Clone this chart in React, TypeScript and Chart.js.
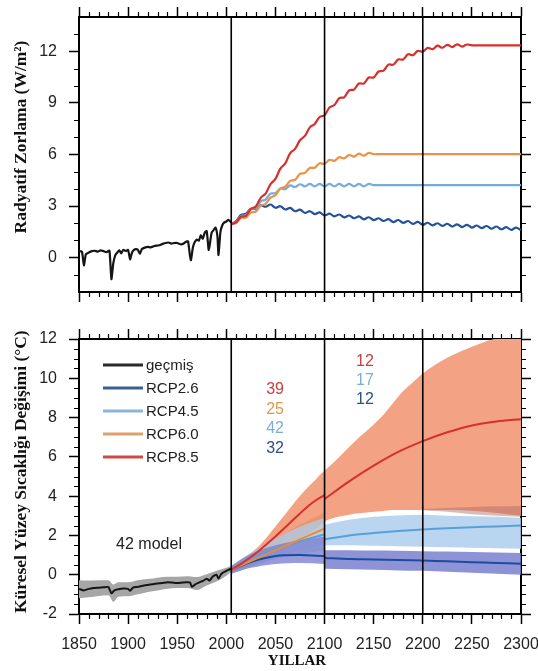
import React, { useEffect, useRef } from "react";
import { Chart, registerables } from "chart.js";
Chart.register(...registerables);

// ---------------- axes ----------------
const xMajorTicks = [1850, 1900, 1950, 2000, 2050, 2100, 2150, 2200, 2250, 2300];
const forcingTicks = [0, 3, 6, 9, 12];
const tempTicks = [-2, 0, 2, 4, 6, 8, 10, 12];
const eraLines = [2005, 2100, 2200];

// ---------------- top panel: radiative forcing (W/m2) ----------------
const histForcingYears = [1850, 1853, 1855, 1857, 1860, 1863, 1866, 1869, 1872, 1875, 1878, 1881, 1883, 1885, 1887, 1889, 1891, 1893, 1895, 1898, 1900, 1902, 1904, 1906, 1908, 1910, 1912, 1914, 1917, 1920, 1923, 1926, 1929, 1932, 1935, 1938, 1941, 1944, 1947, 1950, 1953, 1956, 1959, 1961, 1963, 1964, 1966, 1968, 1970, 1972, 1974, 1976, 1978, 1980, 1982, 1983, 1985, 1987, 1989, 1991, 1992, 1994, 1996, 1998, 2000, 2002, 2005];
const histForcing = [0.38, 0.35, -0.45, 0.2, 0.3, 0.38, 0.4, 0.35, 0.42, 0.38, 0.32, 0.4, -1.25, -0.3, 0.15, 0.3, 0.42, 0.25, 0.45, 0.38, 0.45, -0.1, 0.3, 0.45, 0.5, 0.45, 0.22, 0.5, 0.58, 0.62, 0.6, 0.66, 0.7, 0.72, 0.8, 0.85, 0.88, 0.82, 0.85, 0.85, 0.78, 0.8, 0.92, 0.95, 0.1, -0.15, 0.6, 0.92, 1.05, 0.98, 1.3, 1.1, 1.45, 1.55, 0.45, 0.7, 1.45, 1.6, 1.75, 1.2, 0.15, 1.5, 1.9, 2.05, 2.1, 2.2, 2.05];

const projYears = [2005, 2010, 2015, 2020, 2025, 2030, 2035, 2040, 2045, 2050, 2055, 2060, 2065, 2070, 2075, 2080, 2085, 2090, 2095, 2100, 2105, 2110, 2115, 2120, 2125, 2130, 2135, 2140, 2145, 2150, 2155, 2160, 2165, 2170, 2175, 2180, 2185, 2190, 2195, 2200, 2205, 2210, 2215, 2220, 2225, 2230, 2235, 2240, 2245, 2250, 2255, 2260, 2265, 2270, 2275, 2280, 2285, 2290, 2295, 2300];
const rcp85Forcing = [1.95, 2.05, 2.38, 2.43, 2.83, 2.98, 3.48, 3.73, 4.28, 4.58, 5.18, 5.48, 6.08, 6.33, 6.83, 7.08, 7.58, 7.78, 8.18, 8.28, 8.73, 8.88, 9.28, 9.33, 9.73, 9.78, 10.13, 10.13, 10.48, 10.48, 10.83, 10.88, 11.23, 11.23, 11.53, 11.53, 11.83, 11.78, 12.03, 11.98, 12.2, 12.13, 12.33, 12.21, 12.38, 12.25, 12.41, 12.28, 12.4, 12.35, 12.35, 12.35, 12.35, 12.35, 12.35, 12.35, 12.35, 12.35, 12.35, 12.35];
const rcp60Forcing = [1.95, 2.03, 2.32, 2.33, 2.62, 2.68, 3.02, 3.13, 3.49, 3.63, 4.02, 4.13, 4.47, 4.53, 4.87, 4.93, 5.22, 5.23, 5.49, 5.45, 5.69, 5.63, 5.85, 5.78, 5.97, 5.88, 6.05, 5.93, 6.09, 6.02, 6.02, 6.02, 6.02, 6.02, 6.02, 6.02, 6.02, 6.02, 6.02, 6.02, 6.02, 6.02, 6.02, 6.02, 6.02, 6.02, 6.02, 6.02, 6.02, 6.02, 6.02, 6.02, 6.02, 6.02, 6.02, 6.02, 6.02, 6.02, 6.02, 6.02];
const rcp45Forcing = [1.95, 2.08, 2.42, 2.48, 2.82, 2.88, 3.27, 3.38, 3.72, 3.75, 4.02, 3.98, 4.2, 4.11, 4.27, 4.15, 4.29, 4.15, 4.29, 4.15, 4.29, 4.15, 4.29, 4.15, 4.29, 4.15, 4.29, 4.15, 4.29, 4.22, 4.22, 4.22, 4.22, 4.22, 4.22, 4.22, 4.22, 4.22, 4.22, 4.22, 4.22, 4.22, 4.22, 4.22, 4.22, 4.22, 4.22, 4.22, 4.22, 4.22, 4.22, 4.22, 4.22, 4.22, 4.22, 4.22, 4.22, 4.22, 4.22, 4.22];
const rcp26Forcing = [1.95, 2.13, 2.49, 2.55, 2.85, 2.83, 3.05, 2.96, 3.09, 2.9, 2.99, 2.8, 2.89, 2.7, 2.79, 2.6, 2.7, 2.53, 2.63, 2.45, 2.56, 2.4, 2.51, 2.34, 2.45, 2.29, 2.4, 2.23, 2.35, 2.18, 2.29, 2.13, 2.24, 2.07, 2.19, 2.02, 2.13, 1.96, 2.08, 1.91, 2.03, 1.88, 2.0, 1.85, 1.97, 1.81, 1.94, 1.78, 1.91, 1.75, 1.87, 1.72, 1.84, 1.68, 1.81, 1.65, 1.77, 1.62, 1.74, 1.6];

// ---------------- bottom panel: temperature change (°C) ----------------
const histTempYears = [1850, 1855, 1860, 1865, 1870, 1875, 1880, 1883, 1886, 1890, 1895, 1900, 1902, 1905, 1910, 1915, 1920, 1925, 1930, 1935, 1940, 1945, 1950, 1955, 1960, 1963, 1965, 1968, 1972, 1976, 1980, 1983, 1986, 1990, 1992, 1995, 1998, 2002, 2005];
const histTemp = [-0.72, -0.8, -0.72, -0.68, -0.66, -0.64, -0.63, -0.95, -0.8, -0.74, -0.7, -0.72, -0.82, -0.66, -0.62, -0.56, -0.52, -0.48, -0.45, -0.42, -0.38, -0.4, -0.42, -0.4, -0.38, -0.4, -0.62, -0.5, -0.4, -0.32, -0.2, -0.3, -0.1, 0.0, -0.2, 0.05, 0.15, 0.25, 0.3];
const histBandYears = [1850, 1860, 1870, 1880, 1885, 1890, 1900, 1910, 1920, 1930, 1940, 1950, 1960, 1970, 1980, 1990, 2000, 2005];
const histTempUpper = [-0.28, -0.3, -0.28, -0.28, -0.5, -0.38, -0.38, -0.28, -0.22, -0.15, -0.1, -0.1, -0.08, -0.12, 0.02, 0.2, 0.35, 0.45];
const histTempLower = [-1.2, -1.15, -1.08, -1.05, -1.38, -1.12, -1.1, -1.0, -0.88, -0.8, -0.72, -0.68, -0.68, -0.78, -0.55, -0.35, -0.05, 0.15];

const tempYearsPre = [2005, 2025, 2050, 2075, 2100];
const tempYearsPost = [2100, 2125, 2150, 2175, 2200, 2225, 2250, 2275, 2300];

const rcp85TempYearsPre = [2005, 2015, 2025, 2035, 2050, 2065, 2080, 2090, 2100];
const rcp85TempPre = [0.25, 0.55, 0.9, 1.3, 1.95, 2.65, 3.35, 3.75, 4.05];
const rcp85TempPost = [3.85, 4.75, 5.55, 6.25, 6.8, 7.25, 7.6, 7.8, 7.92];
const rcp60TempPre = [0.25, 0.7, 1.25, 1.8, 2.35];
const rcp45TempPre = [0.25, 0.75, 1.3, 1.7, 2.05];
const rcp45TempPost = [1.8, 2.0, 2.12, 2.22, 2.3, 2.37, 2.42, 2.46, 2.5];
const rcp26TempPre = [0.25, 0.65, 0.95, 1.0, 0.95];
const rcp26TempPost = [0.85, 0.8, 0.78, 0.75, 0.72, 0.68, 0.64, 0.6, 0.56];

const rcp85BandYears = [2005, 2015, 2025, 2035, 2050, 2065, 2080, 2090, 2100, 2110, 2120, 2130, 2140, 2150, 2160, 2170, 2180, 2190, 2200, 2220, 2240, 2260, 2280, 2300];
const rcp85BandHi = [0.45, 0.7, 1.1, 1.55, 2.45, 3.4, 4.3, 4.8, 5.3, 5.75, 6.25, 6.75, 7.2, 7.65, 8.15, 8.75, 9.35, 9.8, 10.25, 10.9, 11.4, 11.8, 12.1, 12.3];
const rcp85BandLo = [0.05, 0.3, 0.55, 0.8, 1.2, 1.6, 2.0, 2.3, 2.7, 2.9, 3.0, 3.1, 3.15, 3.2, 3.25, 3.3, 3.3, 3.3, 3.3, 3.3, 3.28, 3.22, 3.12, 3.0];
const rcp85StripYears = [2200, 2225, 2250, 2275, 2300];
const rcp85StripHi = [3.35, 3.4, 3.45, 3.48, 3.5];
const rcp85StripLo = [3.28, 3.2, 3.08, 3.0, 2.95];
const rcp60BandHiPre = [0.45, 1.1, 1.85, 2.55, 3.15];
const rcp60BandLoPre = [0.05, 0.4, 0.85, 1.25, 1.6];
const rcp45BandHiPre = [0.45, 1.1, 1.85, 2.45, 2.9];
const rcp45BandLoPre = [0.05, 0.4, 0.8, 1.05, 1.25];
const rcp45BandHiPost = [2.55, 2.8, 2.95, 3.02, 3.05, 3.0, 2.98, 2.95, 2.9];
const rcp45BandLoPost = [1.5, 1.5, 1.47, 1.45, 1.42, 1.4, 1.37, 1.35, 1.32];
const rcp26BandHiPre = [0.45, 1.05, 1.5, 1.75, 1.95];
const rcp26BandLoPre = [0.05, 0.35, 0.55, 0.6, 0.55];
const rcp26BandHiPost = [1.25, 1.25, 1.23, 1.22, 1.2, 1.18, 1.16, 1.13, 1.1];
const rcp26BandLoPost = [0.3, 0.28, 0.25, 0.22, 0.2, 0.15, 0.1, 0.05, 0.0];

// model counts
const counts2100 = ["39", "25", "42", "32"];
const counts2100Y = [9.4, 8.41, 7.42, 6.43];
const counts2300 = ["12", "17", "12"];
const counts2300Y = [10.84, 9.89, 8.93];
const legendLabels = ["geçmiş", "RCP2.6", "RCP4.5", "RCP6.0", "RCP8.5"];

// ---------------- styles ----------------
const C = {
  hist: "#151515",
  r26: "#24519a",
  r45: "#74acdd",
  r60: "#ea9245",
  r85: "#d6302c",
  r26m: "#1d4c9e",
  r45m: "#5a9fd8",
  r60m: "#ee8a35",
  r85m: "#d7302b",
};
const countColors2100 = ["#c9413e", "#e0974f", "#7aaedb", "#2c4f85"];
const countColors2300 = ["#c9413e", "#7aaedb", "#2c4f85"];
const legendColors = ["#2a2a2a", "#3a5f92", "#8ab6de", "#dca16c", "#cf4a46"];
const SANS = '"Liberation Sans", Arial, Helvetica, sans-serif';
const SERIF = '"Liberation Serif", "Times New Roman", serif';

const pts = (xs: number[], ys: number[]) => xs.map((x, i) => ({ x, y: ys[i] }));

function line(data: any[], color: string, width: number, order: number, tension = 0.35) {
  return {
    type: "line",
    data,
    borderColor: color,
    borderWidth: width,
    pointRadius: 0,
    fill: false,
    tension,
    order,
  };
}

function addBand(list: any[], xs: number[], lo: number[], hi: number[], color: string, order: number) {
  const loIdx = list.length;
  list.push({ type: "line", data: pts(xs, lo), borderWidth: 0, borderColor: "rgba(0,0,0,0)", pointRadius: 0, fill: false, tension: 0.3, cubicInterpolationMode: "monotone", order });
  list.push({ type: "line", data: pts(xs, hi), borderWidth: 0, borderColor: "rgba(0,0,0,0)", backgroundColor: color, pointRadius: 0, fill: { target: loIdx }, tension: 0.3, cubicInterpolationMode: "monotone", order });
}

function axis(position: string, min: number, max: number, ticks: number[], size: number, showLabels: boolean) {
  const vertical = position === "left" || position === "right";
  return {
    type: "linear",
    position,
    min,
    max,
    afterBuildTicks: (s: any) => {
      s.ticks = ticks.map((v) => ({ value: v }));
    },
    afterFit: (s: any) => {
      if (vertical) s.width = size;
      else s.height = size;
      s.paddingLeft = 0;
      s.paddingRight = 0;
      s.paddingTop = 0;
      s.paddingBottom = 0;
    },
    ticks: {
      display: showLabels,
      font: { family: SANS, size: 16 },
      color: "#222",
      padding: vertical ? 12 : 11,
      maxRotation: 0,
      autoSkip: false,
      callback: (v: any) => String(v),
    },
    grid: { drawOnChartArea: false, drawTicks: true, tickLength: 10, tickColor: "#000", tickWidth: 1.5 },
    border: { display: true, color: "#000", width: 2 },
  };
}

const decorPlugin = {
  id: "decor",
  afterDraw(chart: any, _args: any, opts: any) {
    const { ctx, chartArea: a, scales } = chart;
    const xs = scales.x;
    const ys = scales.y;
    ctx.save();
    // minor ticks
    ctx.strokeStyle = "#000";
    ctx.lineWidth = 1.2;
    ctx.beginPath();
    for (let v = xs.min; v <= xs.max + 1e-6; v += opts.xMinor) {
      if (xMajorTicks.includes(v)) continue;
      const p = Math.round(xs.getPixelForValue(v)) + 0.5;
      ctx.moveTo(p, a.top);
      ctx.lineTo(p, a.top - 5);
      ctx.moveTo(p, a.bottom);
      ctx.lineTo(p, a.bottom + 5);
    }
    for (let v = ys.min; v <= ys.max + 1e-6; v += opts.yMinor) {
      if (opts.yMajor.includes(v) || v === ys.min || v === ys.max) continue;
      const p = Math.round(ys.getPixelForValue(v)) + 0.5;
      ctx.moveTo(a.left, p);
      ctx.lineTo(a.left - 5, p);
      ctx.moveTo(a.right, p);
      ctx.lineTo(a.right + 5, p);
    }
    ctx.stroke();
    // texts
    for (const t of opts.texts || []) {
      const px = t.px !== undefined ? t.px : xs.getPixelForValue(t.x);
      const py = t.py !== undefined ? t.py : ys.getPixelForValue(t.y);
      ctx.save();
      ctx.translate(px, py);
      if (t.rotate) ctx.rotate(t.rotate);
      ctx.font = t.font;
      ctx.fillStyle = t.color;
      ctx.textAlign = t.align || "center";
      ctx.textBaseline = "middle";
      ctx.fillText(t.text, 0, 0);
      ctx.restore();
    }
    // legend
    if (opts.legend) {
      ctx.font = `15px ${SANS}`;
      ctx.textAlign = "left";
      ctx.textBaseline = "middle";
      opts.legend.forEach((lab: string, i: number) => {
        const y = a.top + 26 + i * 23;
        ctx.strokeStyle = legendColors[i];
        ctx.lineWidth = 3;
        ctx.beginPath();
        ctx.moveTo(a.left + 24, y);
        ctx.lineTo(a.left + 64, y);
        ctx.stroke();
        ctx.fillStyle = "#222";
        ctx.fillText(lab, a.left + 67, y + 1);
      });
    }
    ctx.restore();
  },
};

function vLines(yMin: number, yMax: number) {
  return eraLines.map((yr) => line([{ x: yr, y: yMin }, { x: yr, y: yMax }], "#000", 1.6, 0, 0));
}

function topConfig(): any {
  const ds: any[] = [
    ...vLines(-2, 14),
    line(pts(projYears, rcp85Forcing), C.r85, 2.2, 1),
    line(pts(projYears, rcp60Forcing), C.r60, 2.2, 2),
    line(pts(projYears, rcp45Forcing), C.r45, 2.2, 3),
    line(pts(projYears, rcp26Forcing), C.r26, 2.2, 4),
    line(pts(histForcingYears, histForcing), C.hist, 2.2, 5, 0.15),
  ];
  return {
    type: "line",
    data: { datasets: ds },
    options: {
      responsive: false,
      animation: false,
      layout: { padding: 0 },
      scales: {
        x: axis("bottom", 1850, 2300, xMajorTicks, 28, false),
        xTop: axis("top", 1850, 2300, xMajorTicks, 17, false),
        y: axis("left", -2, 14, forcingTicks, 79, true),
        yRight: axis("right", -2, 14, forcingTicks, 17, false),
      },
      plugins: {
        legend: { display: false },
        tooltip: { enabled: false },
        decor: {
          xMinor: 10,
          yMinor: 1,
          yMajor: forcingTicks,
          texts: [
            { text: "Radyatif Zorlama (W/m²)", px: 21.5, py: 137, rotate: -Math.PI / 2, font: `bold 17.5px ${SERIF}`, color: "#111" },
          ],
        },
      },
    },
    plugins: [decorPlugin],
  };
}

function bottomConfig(): any {
  const ds: any[] = [
    ...vLines(-2, 12),
    line(pts(rcp85TempYearsPre, rcp85TempPre), C.r85m, 2, 1, 0.3),
    line(pts(tempYearsPost, rcp85TempPost), C.r85m, 2, 1, 0.3),
    line(pts(tempYearsPre, rcp60TempPre), C.r60m, 2, 1, 0.3),
    line(pts(tempYearsPre, rcp45TempPre), C.r45m, 2, 1, 0.3),
    line(pts(tempYearsPost, rcp45TempPost), C.r45m, 2, 1, 0.3),
    line(pts(tempYearsPre, rcp26TempPre), C.r26m, 2, 1, 0.3),
    line(pts(tempYearsPost, rcp26TempPost), C.r26m, 2, 1, 0.3),
    line(pts(histTempYears, histTemp), C.hist, 2, 1, 0.15),
  ];
  addBand(ds, tempYearsPre, rcp26BandLoPre, rcp26BandHiPre, "rgba(122,127,207,0.78)", 3);
  addBand(ds, tempYearsPost, rcp26BandLoPost, rcp26BandHiPost, "rgba(122,127,207,0.85)", 3);
  addBand(ds, tempYearsPre, rcp45BandLoPre, rcp45BandHiPre, "rgba(173,206,237,0.75)", 4);
  addBand(ds, tempYearsPost, rcp45BandLoPost, rcp45BandHiPost, "rgba(173,206,237,0.85)", 4);
  addBand(ds, tempYearsPre, rcp60BandLoPre, rcp60BandHiPre, "rgba(225,130,80,0.45)", 5);
  addBand(ds, rcp85StripYears, rcp85StripLo, rcp85StripHi, "rgba(170,105,100,0.45)", 5);
  addBand(ds, rcp85BandYears, rcp85BandLo, rcp85BandHi, "rgb(244,162,132)", 6);
  addBand(ds, histBandYears, histTempLower, histTempUpper, "rgb(166,166,166)", 6);

  const texts: any[] = [
    { text: "Küresel Yüzey Sıcaklığı Değişimi (°C)", px: 21.5, py: 151.7, rotate: -Math.PI / 2, font: `bold 17.5px ${SERIF}`, color: "#111" },
    { text: "YILLAR", px: 297, py: 341.5, font: `bold 15px ${SERIF}`, color: "#111" },
    { text: "42 model", x: 1921.3, y: 1.53, font: `16px ${SANS}`, color: "#222" },
  ];
  counts2100.forEach((t, i) => texts.push({ text: t, x: 2049.6, y: counts2100Y[i], font: `16px ${SANS}`, color: countColors2100[i] }));
  counts2300.forEach((t, i) => texts.push({ text: t, x: 2141.2, y: counts2300Y[i], font: `16px ${SANS}`, color: countColors2300[i] }));

  return {
    type: "line",
    data: { datasets: ds },
    options: {
      responsive: false,
      animation: false,
      layout: { padding: 0 },
      scales: {
        x: axis("bottom", 1850, 2300, xMajorTicks, 57, true),
        xTop: axis("top", 1850, 2300, xMajorTicks, 19, false),
        y: axis("left", -2, 12, tempTicks, 79, true),
        yRight: axis("right", -2, 12, tempTicks, 17, false),
      },
      plugins: {
        legend: { display: false },
        tooltip: { enabled: false },
        filler: { propagate: false },
        decor: { xMinor: 10, yMinor: 0.5, yMajor: tempTicks, texts, legend: legendLabels },
      },
    },
    plugins: [decorPlugin],
  };
}

export default function App() {
  const topRef = useRef<HTMLCanvasElement>(null);
  const botRef = useRef<HTMLCanvasElement>(null);
  useEffect(() => {
    const c1 = new Chart(topRef.current as HTMLCanvasElement, topConfig());
    const c2 = new Chart(botRef.current as HTMLCanvasElement, bottomConfig());
    return () => {
      c1.destroy();
      c2.destroy();
    };
  }, []);
  return (
    <div style={{ position: "absolute", left: 0, top: 0, width: 538, height: 671, background: "#fff", overflow: "hidden" }}>
      <canvas ref={topRef} width={538} height={320} style={{ position: "absolute", left: 0, top: 0, width: 538, height: 320 }} />
      <canvas ref={botRef} width={538} height={351} style={{ position: "absolute", left: 0, top: 320, width: 538, height: 351 }} />
    </div>
  );
}
